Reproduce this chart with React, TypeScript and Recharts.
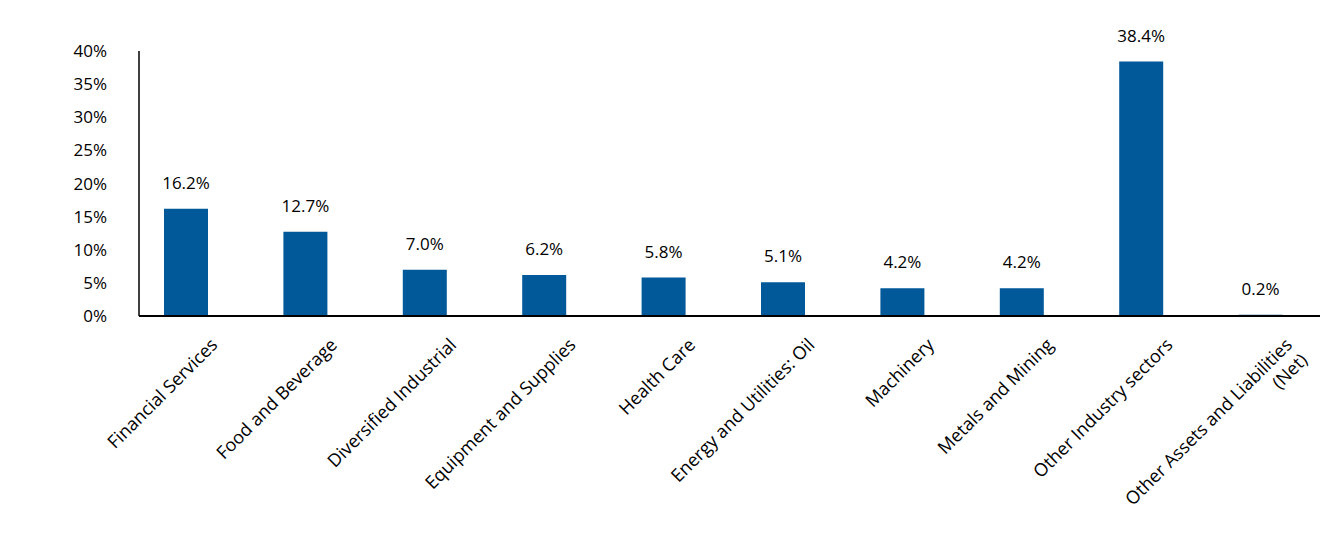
import React from "react";
import { BarChart, Bar, XAxis, YAxis, LabelList } from "recharts";

const sectors = [
  "Financial Services",
  "Food and Beverage",
  "Diversified Industrial",
  "Equipment and Supplies",
  "Health Care",
  "Energy and Utilities: Oil",
  "Machinery",
  "Metals and Mining",
  "Other Industry sectors",
  "Other Assets and Liabilities\n(Net)",
];
const weights = [16.2, 12.7, 7.0, 6.2, 5.8, 5.1, 4.2, 4.2, 38.4, 0.2];
const yTicks = [0, 5, 10, 15, 20, 25, 30, 35, 40];

const data = sectors.map((name, i) => ({ name, weight: weights[i] }));

const FONT = "'Open Sans', sans-serif";

const SectorTick = (props: any) => {
  const { x, y, payload } = props;
  const lines = String(payload.value).split("\n");
  const ax = x + 33;
  const ay = y + 22;
  return (
    <text
      x={ax}
      y={ay}
      transform={`rotate(-45, ${ax}, ${ay})`}
      textAnchor="end"
      fontFamily={FONT}
      fontSize={18}
      fill="#000"
    >
      {lines.map((l, i) => (
        <tspan key={i} x={ax} dy={i === 0 ? 0 : "1.2em"}>
          {l}
        </tspan>
      ))}
    </text>
  );
};

const App = () => {
  return (
    <div style={{ position: "absolute", left: 0, top: 0, background: "#fff" }}>
      <BarChart
        width={1320}
        height={540}
        data={data}
        margin={{ top: 51, right: 0, bottom: 0, left: 0 }}
        barCategoryGap={0}
      >
        <XAxis
          dataKey="name"
          height={224}
          interval={0}
          tickLine={false}
          axisLine={{ stroke: "#000", strokeWidth: 2 }}
          padding={{ left: -13, right: 0 }}
          tick={<SectorTick />}
        />
        <YAxis
          width={139}
          domain={[0, 40]}
          ticks={yTicks}
          interval={0}
          tickLine={false}
          tickSize={0}
          tickMargin={32}
          axisLine={{ stroke: "#000", strokeWidth: 1.5 }}
          tickFormatter={(v: number) => `${v}%`}
          tick={{ fill: "#000", fontSize: 17, fontFamily: FONT }}
        />
        <Bar dataKey="weight" fill="#02599A" barSize={44} isAnimationActive={false}>
          <LabelList
            dataKey="weight"
            position="top"
            offset={20}
            formatter={(v: any) => `${Number(v).toFixed(1)}%`}
            style={{ fill: "#000", fontSize: 17, fontFamily: FONT }}
          />
        </Bar>
      </BarChart>
    </div>
  );
};

export default App;
